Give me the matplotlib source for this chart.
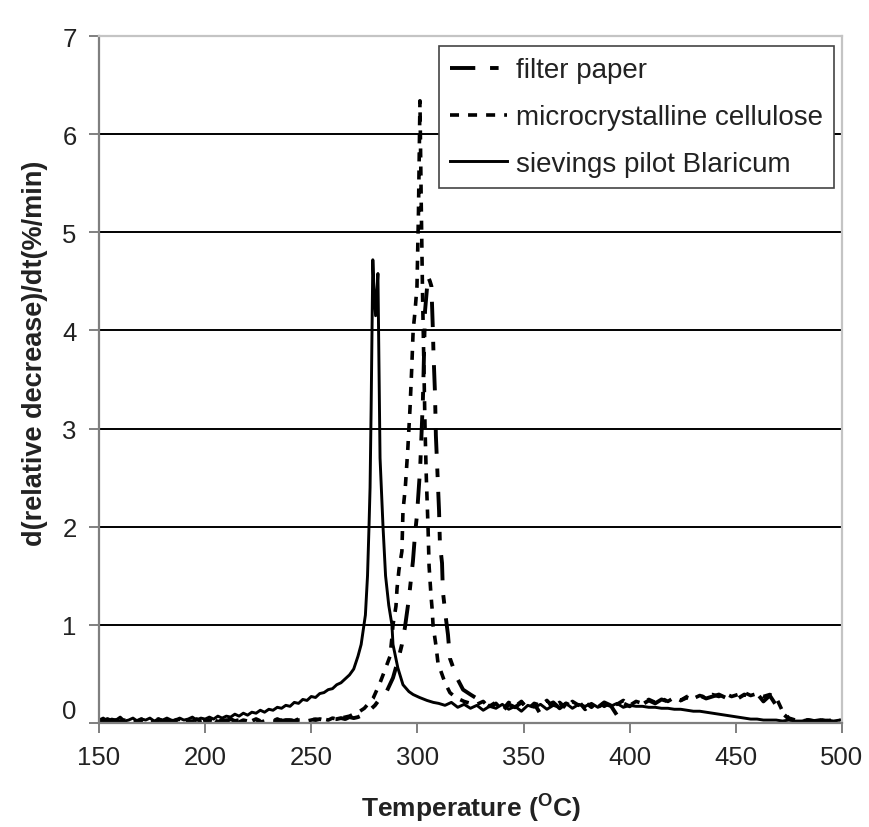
import numpy as np
import matplotlib
matplotlib.use("Agg")
import matplotlib.pyplot as plt
import matplotlib.transforms as mtransforms

plt.rcParams['font.family'] = ['Liberation Sans', 'DejaVu Sans']
plt.rcParams['mathtext.fontset'] = 'custom'
plt.rcParams['mathtext.rm'] = 'Liberation Sans:bold'
plt.rcParams['mathtext.bf'] = 'Liberation Sans:bold'

# ---- sievings pilot Blaricum (solid) ----
sv_base = [0.03, 0.05, 0.02, 0.04, 0.03, 0.06, 0.02, 0.03, 0.05, 0.02,
           0.04, 0.03, 0.05, 0.02, 0.04, 0.03, 0.05, 0.03, 0.02, 0.05,
           0.03, 0.04, 0.06, 0.03, 0.05, 0.04, 0.06, 0.04, 0.07, 0.05,
           0.07, 0.06, 0.09, 0.07, 0.10, 0.08, 0.11, 0.10, 0.13, 0.11,
           0.14, 0.13, 0.16, 0.15, 0.18, 0.17, 0.21, 0.20, 0.24, 0.23,
           0.27, 0.26, 0.30, 0.31, 0.34, 0.35, 0.39, 0.41, 0.45, 0.49,
           0.55]                      # 150..270 every 2 C
sv_peak_t = [272, 273.5, 274.5, 275.5, 276.5, 277.2, 277.7, 278.2, 278.6, 279.0,
             279.5, 280.3, 280.8, 281.4, 281.8, 282.4, 283.8, 285.0, 286.5, 288.0,
             288.5, 290.8, 293.2, 296.0, 298.0, 301.0, 304.5, 307.5]
sv_peak_v = [0.68, 0.8, 0.95, 1.1, 1.5, 2.0, 2.4, 3.2, 4.0, 4.72,
             4.45, 4.15, 4.35, 4.58, 3.8, 2.7, 2.0, 1.5, 1.2, 1.0,
             0.8, 0.56, 0.39, 0.32, 0.29, 0.26, 0.23, 0.21]
sv_tail = [0.20, 0.18, 0.21, 0.16, 0.19, 0.15, 0.18, 0.13, 0.17, 0.15,
           0.19, 0.14, 0.17, 0.12, 0.18, 0.16, 0.19, 0.14, 0.18, 0.16,
           0.20, 0.15, 0.19, 0.17, 0.20, 0.16, 0.19, 0.17, 0.20, 0.16,
           0.18, 0.17, 0.17, 0.16, 0.16, 0.15, 0.15, 0.14, 0.14, 0.13,
           0.12, 0.12, 0.11, 0.10, 0.09, 0.08, 0.07, 0.06, 0.05, 0.04,
           0.04, 0.03, 0.03, 0.03, 0.02, 0.03, 0.02, 0.02, 0.03, 0.02,
           0.02, 0.03, 0.02, 0.03]    # from 310 every 3 C

# ---- microcrystalline cellulose (dotted) ----
mc_base = [0.02, 0.01, 0.03, 0.02, 0.01, 0.02, 0.03, 0.01, 0.02, 0.02,
           0.01, 0.03, 0.02, 0.01, 0.02, 0.03, 0.02, 0.01, 0.02, 0.03,
           0.01, 0.02, 0.02, 0.03, 0.01, 0.02, 0.03, 0.02, 0.01, 0.02,
           0.03, 0.02, 0.02, 0.01, 0.03, 0.02, 0.02, 0.03, 0.01, 0.02,
           0.03, 0.02, 0.02, 0.03, 0.02, 0.03, 0.02, 0.03, 0.03, 0.02,
           0.03, 0.04, 0.03, 0.04, 0.03, 0.05, 0.04]   # 150..262 every 2 C
mc_peak_t = [264, 266, 268, 270, 272.9, 275, 277, 279.1, 282.4, 284.7,
             287.1, 288.0, 288.5, 289.9, 290.4, 291.3, 292.7, 293.2, 294.3, 295.5,
             296.5, 297.3, 298.0, 298.9, 299.8, 300.5, 301.2, 301.8, 302.4, 303.0,
             303.6, 304.2, 305.0, 305.5, 306.4, 306.9, 307.4, 308.8, 309.7, 313.0,
             315.3, 318.0, 322.0, 325.0]
mc_peak_v = [0.05, 0.06, 0.07, 0.09, 0.12, 0.15, 0.2, 0.25, 0.41, 0.54,
             0.68, 0.87, 1.0, 1.19, 1.37, 1.56, 1.75, 2.16, 2.4, 2.8,
             3.2, 3.6, 4.0, 4.2, 4.45, 5.2, 6.34, 5.3, 4.4, 3.7,
             3.0, 2.5, 2.0, 1.6, 1.3, 1.17, 0.99, 0.78, 0.61, 0.41,
             0.31, 0.26, 0.22, 0.2]
mc_tail = [0.19, 0.22, 0.15, 0.20, 0.13, 0.21, 0.17, 0.22, 0.14, 0.20,
           0.18, 0.23, 0.16, 0.21, 0.15, 0.22, 0.18, 0.21, 0.16, 0.22,
           0.17, 0.21, 0.19, 0.23, 0.18, 0.22, 0.20, 0.24, 0.21, 0.25,
           0.22, 0.26, 0.23, 0.27, 0.25, 0.28, 0.26, 0.29, 0.27, 0.30,
           0.27, 0.29, 0.31, 0.28, 0.30, 0.27, 0.29, 0.26, 0.12, 0.05,
           0.03, 0.02, 0.03, 0.02, 0.03, 0.02, 0.03, 0.03]   # from 328 every 3 C

# ---- filter paper (dash-dot) ----
fp_base = [0.03, 0.02, 0.04, 0.02, 0.03, 0.01, 0.04, 0.02, 0.03, 0.02,
           0.04, 0.01, 0.03, 0.02, 0.04, 0.02, 0.03, 0.01, 0.03, 0.04,
           0.02, 0.03, 0.01, 0.04, 0.02, 0.03, 0.02, 0.04, 0.01, 0.03,
           0.02, 0.04, 0.02, 0.03, 0.01, 0.03, 0.02, 0.04, 0.02, 0.03,
           0.03, 0.02, 0.04, 0.02, 0.03, 0.03, 0.02, 0.04, 0.03, 0.03,
           0.04, 0.03, 0.04, 0.03, 0.05, 0.04, 0.04, 0.05, 0.04, 0.06,
           0.05]                      # 150..270 every 2 C
fp_peak_t = [272, 275, 277, 280, 282.4, 285.7, 288.5, 291.0, 292.7, 294.1,
             295.5, 296.5, 297.9, 298.9, 299.8, 301.3, 302.6, 303.6, 304.4, 305.0,
             305.9, 306.6, 307.3, 307.6, 308.3, 308.7, 309.2, 309.7, 310.2, 310.6,
             311.6, 312.0, 313.4, 314.4, 315.3, 318.6, 321.5, 325.0, 328.0]
fp_peak_v = [0.06, 0.09, 0.12, 0.18, 0.25, 0.33, 0.46, 0.65, 0.8, 0.97,
             1.19, 1.37, 1.65, 1.93, 2.12, 2.6, 3.3, 4.2, 4.4, 4.55,
             4.5, 4.45, 4.0, 3.75, 3.35, 2.93, 2.67, 2.42, 2.16, 1.83,
             1.63, 1.34, 1.07, 0.9, 0.66, 0.46, 0.34, 0.29, 0.25]
fp_tail = [0.22, 0.17, 0.21, 0.12, 0.19, 0.16, 0.21, 0.15, 0.20, 0.09,
           0.18, 0.21, 0.15, 0.20, 0.17, 0.22, 0.14, 0.19, 0.16, 0.21,
           0.18, 0.08, 0.20, 0.17, 0.22, 0.19, 0.23, 0.20, 0.24, 0.22,
           0.25, 0.23, 0.26, 0.24, 0.28, 0.25, 0.27, 0.29, 0.26, 0.28,
           0.25, 0.29, 0.27, 0.30, 0.22, 0.28, 0.18, 0.10, 0.04, 0.03,
           0.02, 0.03, 0.02, 0.03, 0.02, 0.03, 0.04]   # from 331 every 3 C

labels = ['filter paper', 'microcrystalline cellulose', 'sievings pilot Blaricum']


def series(base, base_start, base_step, pt, pv, tail, tail_start, tail_step):
    t = np.concatenate([base_start + base_step * np.arange(len(base)),
                        pt,
                        tail_start + tail_step * np.arange(len(tail))])
    v = np.concatenate([base, pv, tail])
    return t, v


t_fp, v_fp = series(fp_base, 150, 2, fp_peak_t, fp_peak_v, fp_tail, 331, 3)
t_mc, v_mc = series(mc_base, 150, 2, mc_peak_t, mc_peak_v, mc_tail, 328, 3)
t_sv, v_sv = series(sv_base, 150, 2, sv_peak_t, sv_peak_v, sv_tail, 310, 3)

fig = plt.figure(figsize=(8.69, 8.28), dpi=100)
ax = fig.add_axes([0.1139, 0.1256, 0.855, 0.8297])

ax.plot(t_fp, v_fp, color='black', lw=2.8, dashes=(6.5, 3.8, 2.2, 3.8), label=labels[0])
ax.plot(t_mc, v_mc, color='black', lw=2.6, dashes=(2.5, 2.5), label=labels[1])
ax.plot(t_sv, v_sv, color='black', lw=2.1, label=labels[2])

ax.set_xlim(150, 500)
ax.set_ylim(0, 7)
ax.set_xticks(range(150, 501, 50))
ax.set_yticks(range(0, 8))
for y in range(1, 7):
    ax.axhline(y, color='black', lw=1.4, zorder=0)

for side in ['left', 'bottom']:
    ax.spines[side].set_color('#7f7f7f')
    ax.spines[side].set_linewidth(1.6)
for side in ['top', 'right']:
    ax.spines[side].set_color('#c4c4c4')
    ax.spines[side].set_linewidth(1.6)

ax.tick_params(axis='both', direction='out', length=7, width=1.4, color='#7f7f7f',
               labelsize=18.5, labelcolor='#222222')
ax.tick_params(axis='x', pad=9)
ax.tick_params(axis='y', pad=9)

# the "0" label sits a bit above its tick in the original
lbl0 = ax.get_yticklabels()[0]
lbl0.set_transform(lbl0.get_transform() +
                   mtransforms.ScaledTranslation(0, 15 / 100, fig.dpi_scale_trans))

ax.set_xlabel(r'Temperature ($^{\mathbf{O}}$C)', fontsize=19, fontweight='bold', color='#222222')
ax.set_ylabel('d(relative decrease)/dt(%/min)', fontsize=19.5, fontweight='bold', color='#222222')
ax.xaxis.set_label_coords(0.5, -0.097)
ax.yaxis.set_label_coords(-0.068, 0.54)

leg = ax.legend(loc='upper right', bbox_to_anchor=(0.989, 0.985), borderaxespad=0,
                fontsize=20, frameon=True, fancybox=False, framealpha=1,
                handlelength=2.05, handletextpad=0.3, labelspacing=0.75,
                borderpad=0.4)
leg.get_frame().set_edgecolor('#444444')
leg.get_frame().set_linewidth(1.2)
for txt in leg.get_texts():
    txt.set_color('#222222')

fig.savefig('out.png', dpi=100)
